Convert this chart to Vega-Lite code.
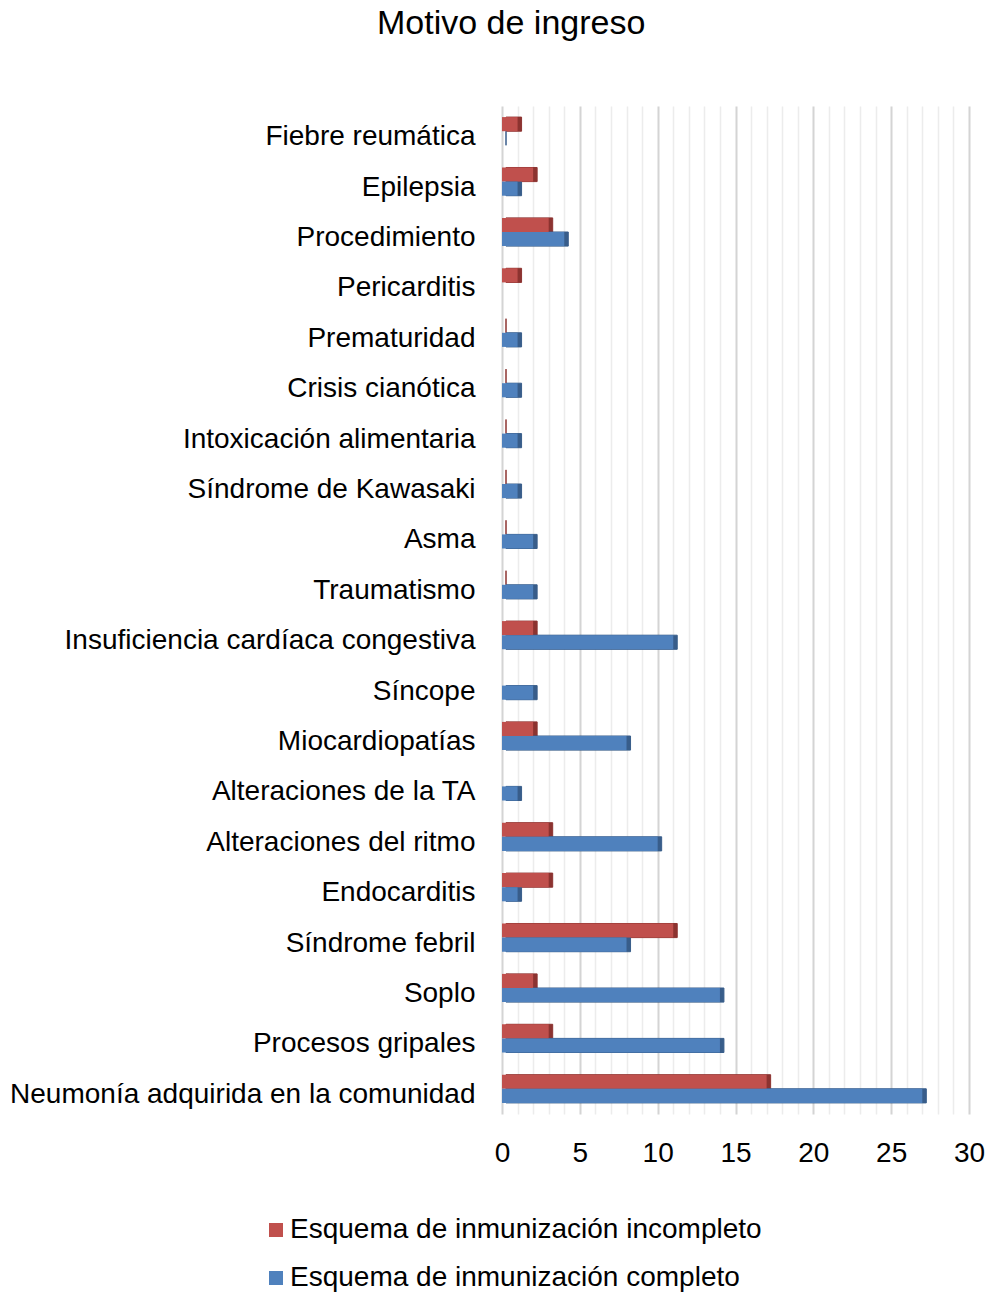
{
  "$schema": "https://vega.github.io/schema/vega-lite/v6.json",
  "autosize": {"type": "none"},
  "padding": {"left": 502, "top": 106, "right": 18, "bottom": 178},
  "width": 467,
  "height": 1008,
  "background": "white",
  "config": {
    "font": "Liberation Sans",
    "view": {"stroke": null}
  },
  "title": {
    "text": "Motivo de ingreso",
    "fontSize": 34,
    "fontWeight": "normal",
    "color": "#000000",
    "anchor": "start",
    "frame": "group",
    "dx": -125,
    "offset": 65
  },
  "data": {
    "values": [
      {"motivo": "Fiebre reumática", "esquema": "Esquema de inmunización incompleto", "n": 1},
      {"motivo": "Fiebre reumática", "esquema": "Esquema de inmunización completo", "n": 0},
      {"motivo": "Epilepsia", "esquema": "Esquema de inmunización incompleto", "n": 2},
      {"motivo": "Epilepsia", "esquema": "Esquema de inmunización completo", "n": 1},
      {"motivo": "Procedimiento", "esquema": "Esquema de inmunización incompleto", "n": 3},
      {"motivo": "Procedimiento", "esquema": "Esquema de inmunización completo", "n": 4},
      {"motivo": "Pericarditis", "esquema": "Esquema de inmunización incompleto", "n": 1},
      {"motivo": "Prematuridad", "esquema": "Esquema de inmunización incompleto", "n": 0},
      {"motivo": "Prematuridad", "esquema": "Esquema de inmunización completo", "n": 1},
      {"motivo": "Crisis cianótica", "esquema": "Esquema de inmunización incompleto", "n": 0},
      {"motivo": "Crisis cianótica", "esquema": "Esquema de inmunización completo", "n": 1},
      {"motivo": "Intoxicación alimentaria", "esquema": "Esquema de inmunización incompleto", "n": 0},
      {"motivo": "Intoxicación alimentaria", "esquema": "Esquema de inmunización completo", "n": 1},
      {"motivo": "Síndrome de Kawasaki", "esquema": "Esquema de inmunización incompleto", "n": 0},
      {"motivo": "Síndrome de Kawasaki", "esquema": "Esquema de inmunización completo", "n": 1},
      {"motivo": "Asma", "esquema": "Esquema de inmunización incompleto", "n": 0},
      {"motivo": "Asma", "esquema": "Esquema de inmunización completo", "n": 2},
      {"motivo": "Traumatismo", "esquema": "Esquema de inmunización incompleto", "n": 0},
      {"motivo": "Traumatismo", "esquema": "Esquema de inmunización completo", "n": 2},
      {"motivo": "Insuficiencia cardíaca congestiva", "esquema": "Esquema de inmunización incompleto", "n": 2},
      {"motivo": "Insuficiencia cardíaca congestiva", "esquema": "Esquema de inmunización completo", "n": 11},
      {"motivo": "Síncope", "esquema": "Esquema de inmunización completo", "n": 2},
      {"motivo": "Miocardiopatías", "esquema": "Esquema de inmunización incompleto", "n": 2},
      {"motivo": "Miocardiopatías", "esquema": "Esquema de inmunización completo", "n": 8},
      {"motivo": "Alteraciones de la TA", "esquema": "Esquema de inmunización completo", "n": 1},
      {"motivo": "Alteraciones del ritmo", "esquema": "Esquema de inmunización incompleto", "n": 3},
      {"motivo": "Alteraciones del ritmo", "esquema": "Esquema de inmunización completo", "n": 10},
      {"motivo": "Endocarditis", "esquema": "Esquema de inmunización incompleto", "n": 3},
      {"motivo": "Endocarditis", "esquema": "Esquema de inmunización completo", "n": 1},
      {"motivo": "Síndrome febril", "esquema": "Esquema de inmunización incompleto", "n": 11},
      {"motivo": "Síndrome febril", "esquema": "Esquema de inmunización completo", "n": 8},
      {"motivo": "Soplo", "esquema": "Esquema de inmunización incompleto", "n": 2},
      {"motivo": "Soplo", "esquema": "Esquema de inmunización completo", "n": 14},
      {"motivo": "Procesos gripales", "esquema": "Esquema de inmunización incompleto", "n": 3},
      {"motivo": "Procesos gripales", "esquema": "Esquema de inmunización completo", "n": 14},
      {"motivo": "Neumonía adquirida en la comunidad", "esquema": "Esquema de inmunización incompleto", "n": 17},
      {"motivo": "Neumonía adquirida en la comunidad", "esquema": "Esquema de inmunización completo", "n": 27}
    ]
  },
  "encoding": {
    "y": {
      "field": "motivo",
      "type": "nominal",
      "sort": null,
      "title": null,
      "scale": {"paddingInner": 0.44, "paddingOuter": 0.22},
      "axis": {
        "ticks": false,
        "domain": false,
        "labelFontSize": 28,
        "labelColor": "#000000",
        "labelPadding": 27,
        "labelOffset": 6,
        "labelLimit": 700
      }
    },
    "yOffset": {
      "field": "esquema",
      "type": "nominal",
      "sort": ["Esquema de inmunización incompleto", "Esquema de inmunización completo"]
    },
    "x": {
      "field": "n",
      "type": "quantitative",
      "title": null,
      "scale": {"domain": [0, 30], "nice": false},
      "axis": {
        "values": [0,1,2,3,4,5,6,7,8,9,10,11,12,13,14,15,16,17,18,19,20,21,22,23,24,25,26,27,28,29,30],
        "labelExpr": "datum.value % 5 === 0 ? datum.label : ''",
        "ticks": false,
        "domain": false,
        "grid": true,
        "gridColor": {"condition": {"test": "datum.value % 5 === 0", "value": "#d4d4d4"}, "value": "#ececec"},
        "gridWidth": {"condition": {"test": "datum.value % 5 === 0", "value": 2}, "value": 1.5},
        "labelFontSize": 28,
        "labelColor": "#000000",
        "labelPadding": 25,
        "labelFlush": false
      }
    }
  },
  "layer": [
    {
      "mark": {"type": "bar", "xOffset": 4, "yOffset": -4, "strokeWidth": 1},
      "encoding": {
        "color": {
          "field": "esquema",
          "type": "nominal",
          "legend": null,
          "scale": {
            "domain": ["Esquema de inmunización incompleto", "Esquema de inmunización completo"],
            "range": ["#8C3330", "#385D8A"]
          }
        },
        "stroke": {
          "field": "esquema",
          "type": "nominal",
          "legend": null,
          "scale": {
            "domain": ["Esquema de inmunización incompleto", "Esquema de inmunización completo"],
            "range": ["#8C3330", "#385D8A"]
          }
        }
      }
    },
    {
      "mark": {"type": "bar"},
      "encoding": {
        "fill": {
          "field": "esquema",
          "type": "nominal",
          "scale": {
            "domain": ["Esquema de inmunización incompleto", "Esquema de inmunización completo"],
            "range": ["#C0504D", "#4F81BD"]
          },
          "legend": {
            "title": null,
            "orient": "none",
            "legendX": -240,
            "legendY": 1110,
            "direction": "vertical",
            "symbolType": "square",
            "symbolSize": 196,
            "symbolStrokeWidth": 0,
            "labelFontSize": 28,
            "labelColor": "#000000",
            "labelOffset": 0,
            "labelLimit": 700,
            "rowPadding": 20
          }
        }
      }
    }
  ],
  "resolve": {"scale": {"color": "independent", "fill": "independent"}}
}
